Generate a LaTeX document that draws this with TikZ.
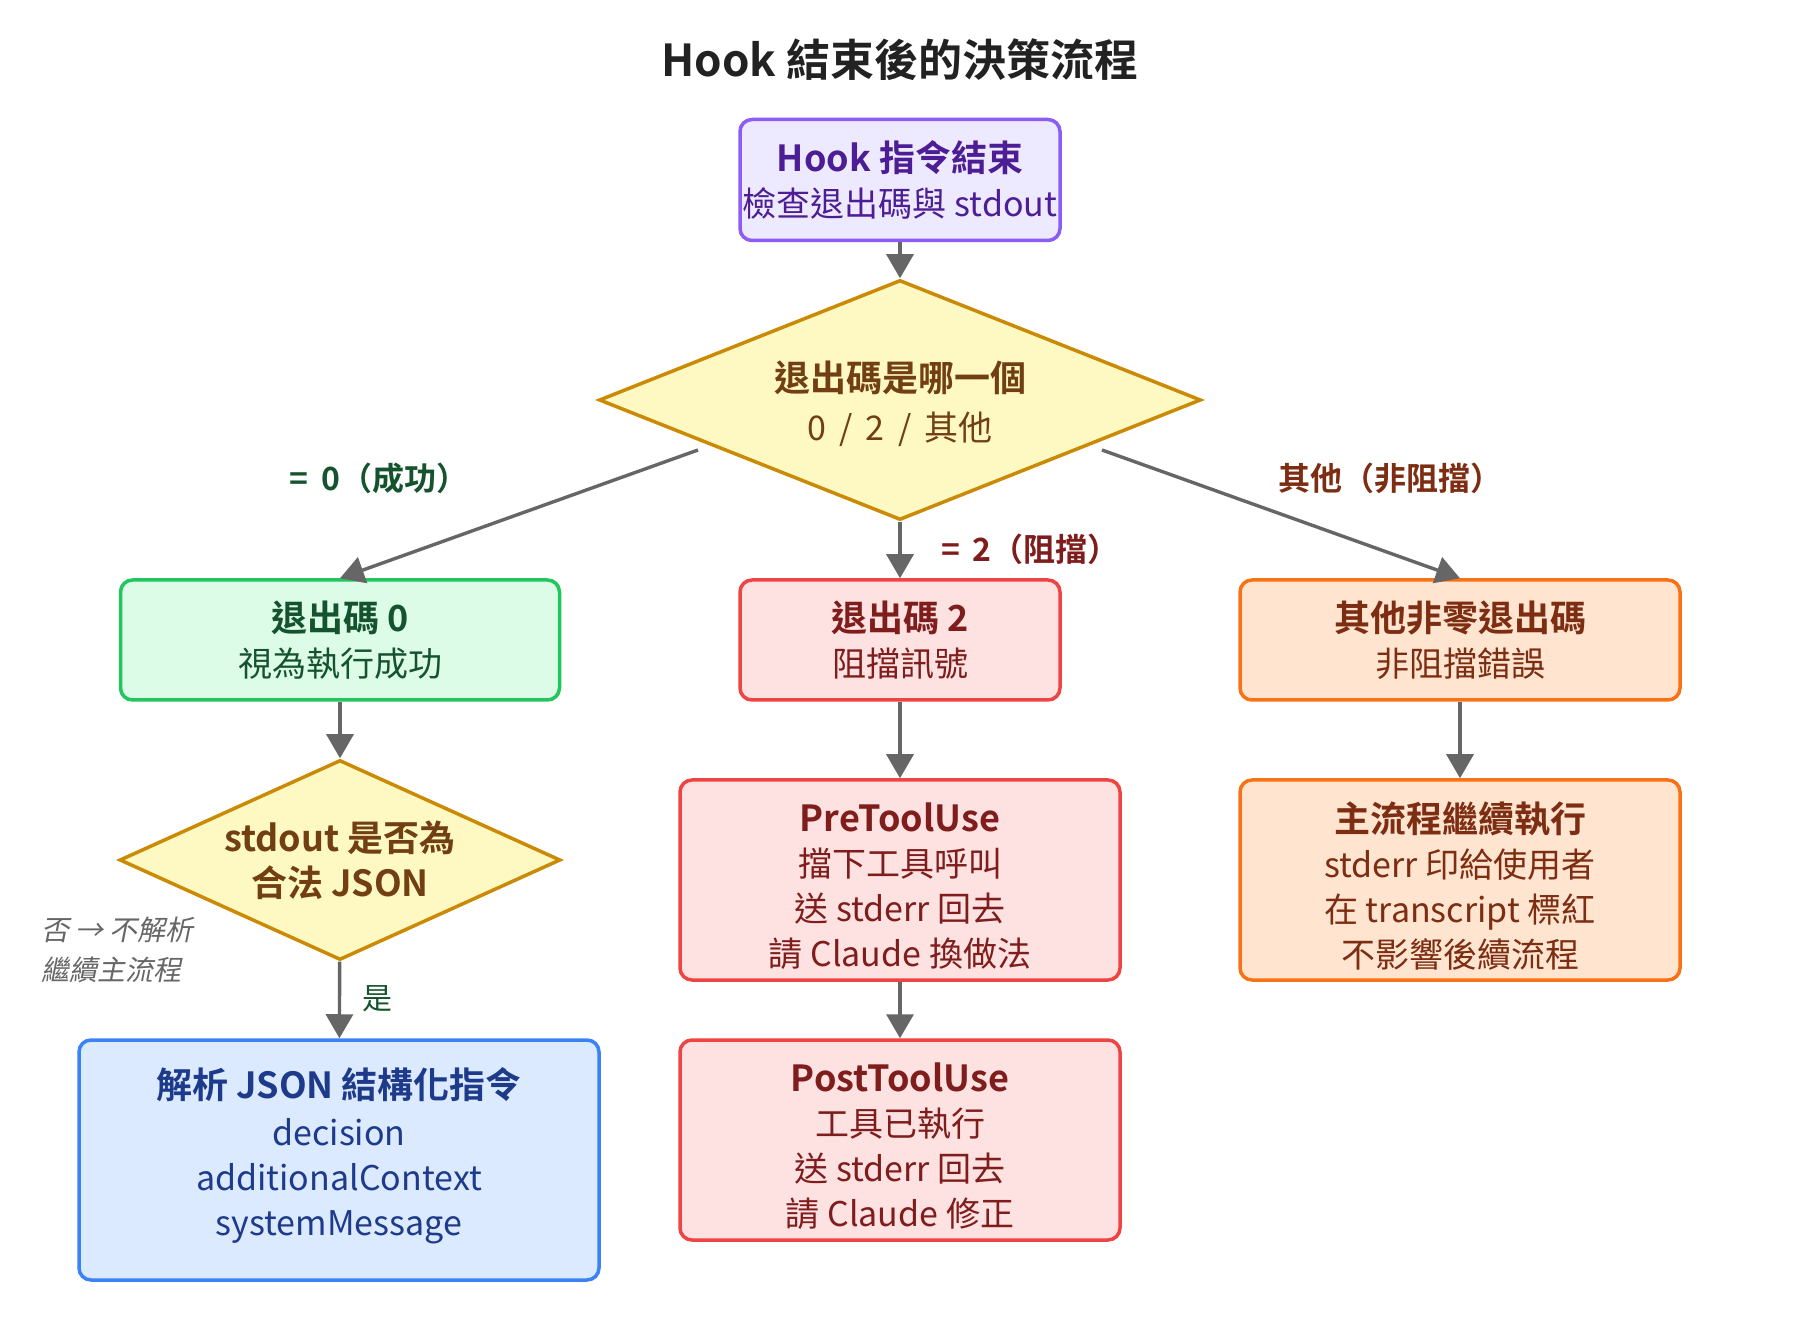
\documentclass[tikz,border=0pt]{standalone}
\usepackage{fontspec}
\setmainfont{Noto Sans CJK TC}[BoldFont={Noto Sans CJK TC Bold}, ItalicFont={Noto Sans CJK TC}, ItalicFeatures={FakeSlant=0.2}]
\usetikzlibrary{shapes.geometric,arrows.meta}
\definecolor{titlec}{HTML}{222222}
\definecolor{arrowc}{HTML}{666666}
\definecolor{pfill}{HTML}{EDE9FE}\definecolor{pdraw}{HTML}{8B5CF6}\definecolor{ptext}{HTML}{4C1D95}
\definecolor{yfill}{HTML}{FEF9C3}\definecolor{ydraw}{HTML}{CA8A04}\definecolor{ytext}{HTML}{713F12}
\definecolor{gfill}{HTML}{DCFCE7}\definecolor{gdraw}{HTML}{22C55E}\definecolor{gtext}{HTML}{14532D}
\definecolor{rfill}{HTML}{FEE2E2}\definecolor{rdraw}{HTML}{EF4444}\definecolor{rtext}{HTML}{7F1D1D}
\definecolor{ofill}{HTML}{FFE4D0}\definecolor{odraw}{HTML}{F97316}\definecolor{otext}{HTML}{7C2D12}
\definecolor{bfill}{HTML}{DBEAFE}\definecolor{bdraw}{HTML}{3B82F6}\definecolor{btext}{HTML}{1E3A8A}
\definecolor{notec}{HTML}{666666}
\newcommand{\hd}[1]{{\bfseries\fontsize{18pt}{22.5pt}\selectfont #1}}
\newcommand{\tallstrut}[1]{\rule{0pt}{#1}}
\newcommand{\deepstrut}[1]{\rule[-#1]{0pt}{0pt}}
\begin{document}
\begin{tikzpicture}[x=0.5pt,y=-0.5pt,
  boxbase/.style={draw, rounded corners=6pt, line width=1.75pt, align=center, inner sep=0pt,
    font=\fontsize{17pt}{22.5pt}\selectfont},
  purplebox/.style={boxbase, fill=pfill, draw=pdraw, text=ptext},
  greenbox/.style={boxbase, fill=gfill, draw=gdraw, text=gtext},
  redbox/.style={boxbase, fill=rfill, draw=rdraw, text=rtext},
  orangebox/.style={boxbase, fill=ofill, draw=odraw, text=otext},
  bluebox/.style={boxbase, fill=bfill, draw=bdraw, text=btext},
  decision/.style={diamond, draw=ydraw, fill=yfill, text=ytext, line width=1.75pt, align=center,
    inner sep=0pt, font=\fontsize{17pt}{22.5pt}\selectfont},
  arr/.style={draw=arrowc, line width=1.7pt, -{Triangle[length=12pt,width=13.5pt]}},
  lbl/.style={font=\bfseries\fontsize{16pt}{20pt}\selectfont, inner sep=0pt},
]
\useasboundingbox (0,0) rectangle (1800,1320);

\node[font=\bfseries\fontsize{22pt}{26pt}\selectfont, text=titlec] (title) at (900,60) {Hook 結束後的決策流程};

\node[purplebox, minimum width=160pt, minimum height=60.5pt] (top) at (900,180)
  {\hd{Hook 指令結束}\\ 檢查退出碼與 stdout};

\node[decision, minimum width=301pt, minimum height=120pt, aspect=2.5] (d1) at (900,400)
  {\tallstrut{19pt}\hd{退出碼是哪一個}\\[2pt] 0 \,/ \,2 \,/ \,其他};

\node[greenbox, minimum width=219.5pt, minimum height=60pt] (e0) at (340,640)
  {\hd{退出碼 0}\\ 視為執行成功};
\node[redbox, minimum width=160pt, minimum height=60pt] (e2) at (900,640)
  {\hd{退出碼 2}\\ 阻擋訊號};
\node[orangebox, minimum width=220pt, minimum height=60pt] (eo) at (1460,640)
  {\hd{其他非零退出碼}\\ 非阻擋錯誤};

\node[decision, minimum width=220.5pt, minimum height=100pt, aspect=2.2] (d2) at (340,860)
  {\hd{stdout 是否為}\\ \hd{合法 JSON}};

\node[bluebox, minimum width=260pt, minimum height=120pt] (parse) at (339,1160)
  {\hd{解析 JSON 結構化指令}\\[1.3pt] decision\\ additionalContext\\ systemMessage\deepstrut{8.5pt}};

\node[redbox, minimum width=220pt, minimum height=100pt] (pre) at (900,880)
  {\tallstrut{21pt}\hd{PreToolUse}\\ 擋下工具呼叫\\ 送 stderr 回去\\ 請 Claude 換做法};
\node[redbox, minimum width=220pt, minimum height=100pt] (post) at (900,1140)
  {\tallstrut{21pt}\hd{PostToolUse}\\ 工具已執行\\ 送 stderr 回去\\ 請 Claude 修正};
\node[orangebox, minimum width=220pt, minimum height=100pt] (cont) at (1460,880)
  {\tallstrut{21pt}\hd{主流程繼續執行}\\ stderr 印給使用者\\ 在 transcript 標紅\\ 不影響後續流程};

\coordinate (d1l) at (698,450);
\coordinate (d1r) at (1102,450);

\draw[arr] (top) -- (d1);
\draw[arr] (d1l) -- (e0.north);
\draw[arr] (d1) -- (e2);
\draw[arr] (d1r) -- (eo.north);
\draw[arr] (e0) -- (d2);
\draw[arr] (d2) -- (parse);
\draw[arr] (e2) -- (pre);
\draw[arr] (pre) -- (post);
\draw[arr] (eo) -- (cont);

\node[lbl, text=gtext] (l0) at (379,478) {= \,0（成功）};
\node[lbl, text=rtext, anchor=west] (l2) at (941,549) {= \,2（阻擋）};
\node[lbl, text=otext] (lo) at (1390,478) {其他（非阻擋）};
\node[font=\fontsize{15pt}{18pt}\selectfont, text=gtext, inner sep=0pt] (lyes) at (377,999) {是};
\node[font=\itshape\fontsize{14pt}{20pt}\selectfont, text=notec, align=left, anchor=west, inner sep=0pt] (lno) at (41,950)
  {否 → 不解析\\ 繼續主流程};
\end{tikzpicture}
\end{document}
